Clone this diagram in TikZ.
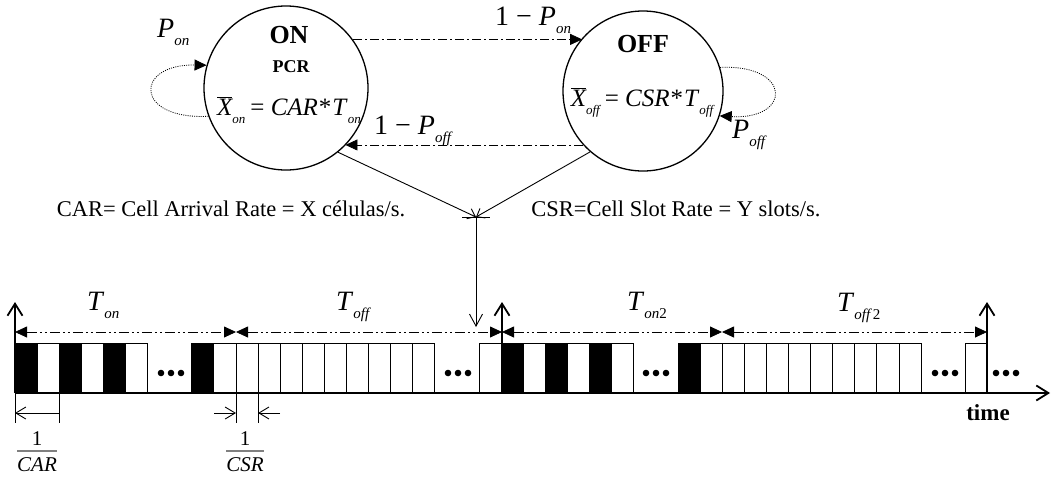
\documentclass[tikz,border=0pt]{standalone}
\usepackage{fontspec}
\setmainfont{Liberation Serif}
\usetikzlibrary{arrows.meta}
% lowered, small italic subscript in the equation-editor style
\newcommand{\lowsub}[2][15]{\raisebox{-8pt}{\fontsize{#1}{#1}\selectfont\itshape #2}}
\newcommand{\barX}{$\overline{\mbox{\itshape X}}$}
\tikzset{
  state/.style={draw, circle, line width=1.3pt, inner sep=0pt},
  title/.style={inner sep=0pt, anchor=base, font=\fontsize{26}{28}\selectfont\bfseries},
  eqn/.style={inner sep=0pt, anchor=base, font=\fontsize{25}{28}\selectfont},
  lbl/.style={inner sep=0pt, anchor=base west, font=\fontsize{28}{30}\selectfont},
  note/.style={inner sep=0pt, anchor=base, font=\fontsize{22.5}{24}\selectfont},
  fraclbl/.style={inner sep=0pt, anchor=base, font=\fontsize{21}{24}\selectfont},
  trans/.style={line width=0.7pt, dash pattern=on 9pt off 3pt on 2pt off 3pt,
    -{Triangle[length=12pt,width=11pt]}},
  loopy/.style={line width=0.8pt, dash pattern=on 1pt off 1.2pt,
    -{Triangle[length=12pt,width=11pt]}},
  feed/.style={line width=0.9pt, -{Straight Barb[length=7pt,width=11pt]}},
  span/.style={line width=0.8pt, dash pattern=on 10pt off 3pt on 2pt off 3pt on 2pt off 3pt,
    {Triangle[length=12pt,width=11pt]}-{Triangle[length=12pt,width=11pt]}},
  upmark/.style={line width=1.8pt, -{Straight Barb[length=12pt,width=15pt]}},
  cell/.style={draw=black, line width=0.9pt},
  tickline/.style={line width=0.9pt},
  barb/.style={line width=0.9pt, -{Straight Barb[length=10pt,width=12pt]}},
}
\begin{document}
\begin{tikzpicture}[x=1pt,y=-1pt]
\useasboundingbox (0,0) rectangle (1051,477);

% ---- the two states ----
\node[state, minimum size=164pt] (on)  at (286,88) {};
\node[state, minimum size=160pt] (off) at (643,91) {};

\node[title] (onname) at (289,43) {ON};
\node[title, font=\fontsize{18}{20}\selectfont\bfseries] (pcr) at (291,72) {PCR};
\node[eqn] (oneq) at (289,115) {\barX\lowsub[13]{on}\hspace{5pt}= \textit{CAR}\hspace{1pt}*\hspace{1pt}\textit{T}\lowsub[13]{on}};
\node[title] (offname) at (643,52) {OFF};
\node[eqn] (offeq) at (642,106) {\barX\lowsub[13]{off}\hspace{5pt}= \textit{CSR}\hspace{1pt}*\hspace{1pt}\textit{T}\lowsub[13]{off}};

% ---- transitions ----
\draw[trans] (on.36.7) -- (on.36.7 -| off.139.5);
\draw[trans] (off.222.5) -- (off.222.5 -| on.-44);
\draw[loopy] (on.200) .. controls (134,120) and (134,64) .. (on.164);
\draw[loopy] (off.17.5) .. controls (792,64) and (792,120) .. (off.-18);

\node[lbl] (pon)    at (157,37)  {\textit{P}\lowsub{on}};
\node[lbl] (npon)   at (495,25)  {1 − \textit{P}\lowsub{on}};
\node[lbl] (npoff)  at (374,134) {1 − \textit{P}\lowsub{off}};
\node[lbl] (poff)   at (732,138) {\textit{P}\lowsub{off}};

% ---- rates feeding the time line ----
\coordinate (J)  at (476,217);
\coordinate (Jl) at (462,217);
\coordinate (Jr) at (490,217);
\coordinate (Jd) at (476,327);
\draw[feed] (on.-51) -- (J);
\draw[feed] (off.229.5) -- (J);
\draw[line width=0.9pt] (Jl) -- (Jr);
\draw[line width=0.9pt, -{Straight Barb[length=12pt,width=13pt]}] (J) -- (Jd);

\node[note] (car) at (231,216) {CAR= Cell Arrival Rate = X células/s.};
\node[note] (csr) at (676,216) {CSR=Cell Slot Rate = Y slots/s.};

% ---- cell slots ----
\def\cw{22.1}
\foreach \i in {1,3,5,9,10,11,12,13,14,15,16,17,18,21,23,25,27,31,32,33,34,35,36,37,38,39,40,43}
  \draw[cell, fill=white] ({15+\i*\cw},343) rectangle ++(\cw,50);
\foreach \i in {0,2,4,8,22,24,26,30}
  \filldraw[cell, fill=black] ({15+\i*\cw},343) rectangle ++(\cw,50);
\foreach \c in {171,458,656,945,1006}
  \foreach \d in {-10,0,10}
    \fill ({\c+\d},373) circle (3.3pt);

% ---- time axis ----
\coordinate (a0) at (15,393);
\coordinate (a1) at (1050,393);
\draw[line width=1.8pt, -{Straight Barb[length=12pt,width=15pt]}] (a0) -- (a1);
\node[inner sep=0pt, anchor=base, font=\fontsize{23}{24}\selectfont\bfseries] (time) at (988,420) {time};

\foreach \n/\x in {0/15, 1/236, 2/502, 3/722, 4/987}
  \coordinate (t\n) at (\x,332);
\foreach \n/\x in {0/15, 2/502, 4/987} {
  \coordinate (b\n) at (\x,393);
  \coordinate (u\n) at (\x,302);
  \draw[upmark] (b\n) -- (u\n);
}
\draw[span] (t0) -- (t1);
\draw[span] (t1) -- (t2);
\draw[span] (t2) -- (t3);
\draw[span] (t3) -- (t4);

\node[lbl] (ton)   at (87,310)  {\textit{T}\lowsub{on}};
\node[lbl] (toff)  at (336,310) {\textit{T}\lowsub{off}};
\node[lbl] (ton2)  at (627,310) {\textit{T}\lowsub{on\upshape 2}};
\node[lbl] (toff2) at (837,311) {\textit{T}\lowsub{off\,\upshape 2}};

% ---- slot periods ----
\coordinate (p0) at (15,393);    \coordinate (q0) at (15,423);
\coordinate (p1) at (59.2,393);  \coordinate (q1) at (59.2,423);
\coordinate (p2) at (236,393);   \coordinate (q2) at (236,423);
\coordinate (p3) at (258.1,393); \coordinate (q3) at (258.1,423);
\foreach \k in {0,1,2,3} \draw[tickline] (p\k) -- (q\k);
\coordinate (r0) at (15,413);   \coordinate (r1) at (59.2,413);
\coordinate (r2) at (236,413);  \coordinate (r3) at (258.1,413);
\coordinate (s2) at (214,413);  \coordinate (s3) at (280,413);
\draw[barb, {Straight Barb[length=10pt,width=12pt]}-] (r0) -- (r1);
\draw[barb] (s2) -- (r2);
\draw[barb] (s3) -- (r3);

\node[fraclbl] (carnum) at (37,445) {1};
\node[fraclbl] (carden) at (37,471) {\textit{CAR}};
\draw[line width=1.2pt, gray] (17,451) -- (57,451);
\node[fraclbl] (csrnum) at (245,445) {1};
\node[fraclbl] (csrden) at (245,471) {\textit{CSR}};
\draw[line width=1.2pt, gray] (226,451) -- (264,451);
\end{tikzpicture}
\end{document}
